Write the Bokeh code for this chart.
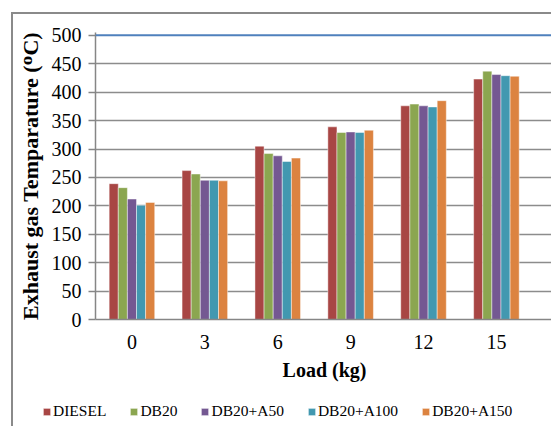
from bokeh.plotting import figure
from bokeh.models import (Range1d, FixedTicker, Span, Legend, LegendItem,
                          ColumnDataSource)
from bokeh.transform import dodge
from bokeh.embed import file_html
from bokeh.resources import INLINE

# Engine load steps (kg) and exhaust gas temperature (deg C) per fuel blend
loads = [0, 3, 6, 9, 12, 15]
series_names = ["DIESEL", "DB20", "DB20+A50", "DB20+A100", "DB20+A150"]
diesel = [239, 262, 305, 339, 376, 423]
db20 = [232, 256, 292, 329, 379, 437]
db20_a50 = [212, 245, 288, 330, 376, 431]
db20_a100 = [201, 245, 278, 329, 374, 429]
db20_a150 = [206, 244, 284, 333, 385, 428]
y_ticks = list(range(0, 501, 50))

colors = ["#A84644", "#8BA650", "#745892", "#4298B0", "#DC8340"]
series = [diesel, db20, db20_a50, db20_a100, db20_a150]

pos = list(range(len(loads)))
data = {"pos": pos}
keys = []
for i, vals in enumerate(series):
    k = f"s{i}"
    keys.append(k)
    data[k] = vals
source = ColumnDataSource(data)

SERIF = "Liberation Serif"
bar_w = 0.125
FRAME_CSS = {"margin-left": "11px", "border-left": "2px solid #8a8a8a"}

# ---- main chart -------------------------------------------------------
p = figure(width=540, height=386,
           x_range=Range1d(-0.5, 5.783), y_range=Range1d(0, 505),
           output_backend="svg", toolbar_location=None,
           min_border_left=82, min_border_right=0,
           min_border_top=18, min_border_bottom=81)
p.styles = dict(FRAME_CSS, **{"margin-top": "12px",
                              "border-top": "2px solid #8a8a8a"})
p.outline_line_color = None
p.background_fill_color = "white"
p.border_fill_color = "white"

for i, (k, c) in enumerate(zip(keys, colors)):
    p.vbar(x=dodge("pos", (i - 2) * bar_w, range=p.x_range), top=k,
           width=bar_w, bottom=0, source=source,
           fill_color=c, line_color="white", line_alpha=0.45, line_width=1)

# Grid
p.xgrid.visible = False
p.ygrid.ticker = FixedTicker(ticks=y_ticks[:-1])
p.ygrid.grid_line_color = "#8c8c8c"
p.ygrid.grid_line_width = 1.5
p.add_layout(Span(location=500, dimension="width",
                  line_color="#4F81BD", line_width=2))

# Y axis
p.yaxis.ticker = FixedTicker(ticks=y_ticks)
p.yaxis.axis_label = "Exhaust gas Temparature (\u1D3CC)"
p.yaxis.axis_label_text_font = SERIF
p.yaxis.axis_label_text_font_style = "bold"
p.yaxis.axis_label_text_font_size = "22px"
p.yaxis.axis_label_text_color = "black"
p.yaxis.axis_label_standoff = 6
p.yaxis.major_label_text_font = SERIF
p.yaxis.major_label_text_font_size = "20px"
p.yaxis.major_label_text_color = "black"
p.yaxis.major_label_standoff = 7
p.yaxis.major_tick_out = 7
p.yaxis.major_tick_in = 0
p.yaxis.minor_tick_line_color = None
p.yaxis.major_tick_line_color = "#868686"
p.yaxis.major_tick_line_width = 1.5
p.yaxis.axis_line_color = "#868686"
p.yaxis.axis_line_width = 1.5

# X axis
p.xaxis.ticker = FixedTicker(ticks=pos)
p.xaxis.major_label_overrides = {i: str(l) for i, l in zip(pos, loads)}
p.xaxis.axis_label = "Load (kg)"
p.xaxis.axis_label_text_font = SERIF
p.xaxis.axis_label_text_font_style = "bold"
p.xaxis.axis_label_text_font_size = "20px"
p.xaxis.axis_label_text_color = "black"
p.xaxis.axis_label_standoff = 7
p.xaxis.major_label_text_font = SERIF
p.xaxis.major_label_text_font_size = "20px"
p.xaxis.major_label_text_color = "black"
p.xaxis.major_label_standoff = 15
p.xaxis.major_tick_out = 0
p.xaxis.major_tick_in = 0
p.xaxis.major_tick_line_color = None
p.xaxis.minor_tick_line_color = None
p.xaxis.axis_line_color = "#868686"
p.xaxis.axis_line_width = 1.5

# ---- legend strip under the chart (own root, so its frame starts at 0) --
leg = figure(width=540, height=28, x_axis_type=None, y_axis_type=None,
             output_backend="svg", toolbar_location=None, min_border=0)
leg.styles = dict(FRAME_CSS)
leg.outline_line_color = None
leg.grid.visible = False
leg_renderers = []
for i, (k, c) in enumerate(zip(keys, colors)):
    r = leg.vbar(x="pos", top=k, width=bar_w, source=source,
                 fill_color=c, line_color="white", line_alpha=0.45,
                 line_width=1, visible=False)
    leg_renderers.append(r)

legend = Legend(items=[LegendItem(label=n, renderers=[r])
                       for n, r in zip(series_names, leg_renderers)],
                orientation="horizontal", location=(29, 6),
                click_policy="none",
                glyph_width=9, glyph_height=9, label_standoff=2,
                spacing=23, padding=0, margin=0,
                border_line_color=None, background_fill_alpha=0,
                label_text_font=SERIF, label_text_font_size="15.5px",
                label_text_color="black", label_height=16)
leg.add_layout(legend, "center")

open("out.html", "w").write(file_html([p, leg], INLINE))
